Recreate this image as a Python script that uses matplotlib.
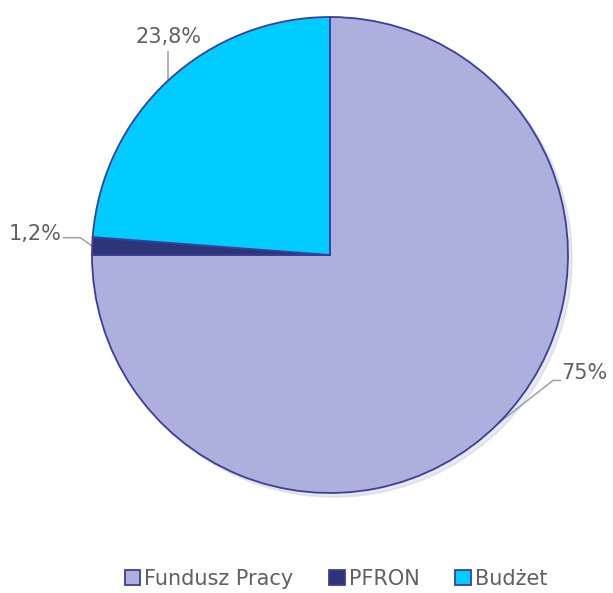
import numpy as np
import matplotlib
matplotlib.use('Agg')
import matplotlib.pyplot as plt

labels = ['Fundusz Pracy', 'PFRON', 'Budżet']
values = [75.0, 1.2, 23.8]
pct_text = ['75%', '1,2%', '23,8%']
colors = ['#ADB0DC', '#2E3478', '#00CCFF']

plt.rcParams['font.family'] = ['DejaVu Sans']
text_col = '#606060'

fig = plt.figure(figsize=(6.13, 5.93), dpi=100)
W, H = 613, 593
cx, cy, r = 330, 255, 238
ax = fig.add_axes([(cx - r) / W, (H - cy - r) / H, 2 * r / W, 2 * r / H])

wedges, _ = ax.pie(values, colors=colors, startangle=90, counterclock=False,
                   radius=1, wedgeprops=dict(edgecolor='#3B3F99', linewidth=1.3),
                   shadow=dict(ox=0.012, oy=-0.012, shade=0.15, alpha=0.2))
ax.set_xlim(-1, 1)
ax.set_ylim(-1, 1)
ax.set_aspect('equal')
ax.axis('off')

# leader lines and labels, placed from each wedge's mid angle
offsets = [((0.23, 0.18), (0.26, 0.18), 'left', 'center', 0.03),
           ((-0.05, 0.035), (-0.12, 0.035), 'right', 'center', 0.015),
           ((0.0, 0.12), (0.0, 0.15), 'center', 'bottom', 0.0)]
for w, txt, (knee, tpos, ha, va, dy) in zip(wedges, pct_text, offsets):
    ang = np.deg2rad((w.theta1 + w.theta2) / 2)
    x, y = np.cos(ang), np.sin(ang)
    kx, ky = x + knee[0], y + knee[1]
    tx, ty = x + tpos[0], y + tpos[1]
    ax.plot([x, kx, tx if ha != 'center' else kx], [y, ky, ky],
            color='#A6A6A6', lw=1.2, clip_on=False, zorder=0)
    ax.text(tx + (0.005 if ha == 'left' else -0.01 if ha == 'right' else 0),
            ty + dy + (-0.01 if va == 'bottom' else 0), txt,
            ha=ha, va=va, fontsize=15, color=text_col, clip_on=False)

leg = fig.legend(wedges, labels, loc='lower center', bbox_to_anchor=(0.548, -0.025),
                 ncol=3, frameon=False, fontsize=15, handlelength=0.75,
                 handleheight=0.75, handletextpad=0.2, columnspacing=1.7)
for t in leg.get_texts():
    t.set_color(text_col)

fig.savefig('out.png', dpi=100)
